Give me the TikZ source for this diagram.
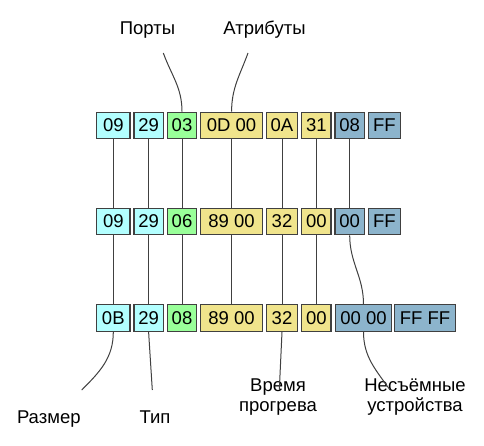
\documentclass[tikz,border=0pt]{standalone}
\usepackage{fontspec}
\setmainfont{Liberation Sans}
\usetikzlibrary{positioning}

\definecolor{cellcyan}{RGB}{179,255,255}
\definecolor{cellgreen}{RGB}{153,255,153}
\definecolor{cellyellow}{RGB}{240,228,140}
\definecolor{cellblue}{RGB}{140,180,204}
\definecolor{edgegray}{RGB}{64,64,64}

\begin{document}
\begin{tikzpicture}[x=1pt,y=-1pt,
    font=\fontsize{18.5}{20}\selectfont,
    cell/.style={draw=edgegray,line width=1.3pt,inner sep=0pt,
      minimum height=26.5pt,minimum width=#1},
    cell/.default=29.5pt,
    lbl/.style={align=center,inner sep=0pt,anchor=base},
    wire/.style={draw=edgegray,line width=1pt}]
  \useasboundingbox (0,0) rectangle (484,445);

  % First row
  \node[cell=33.5pt,fill=cellcyan]   (a1) at (113.3,125.5) {09};
  \node[cell,fill=cellcyan]          (b1) at (148.6,125.5) {29};
  \node[cell,fill=cellgreen]         (c1) at (182,125.5) {03};
  \node[cell=62pt,fill=cellyellow]   (d1) at (231.6,125.5) {0D 00};
  \node[cell=31.5pt,fill=cellyellow] (e1) at (282,125.5) {0A};
  \node[cell,fill=cellyellow]        (f1) at (316.3,125.5) {31};
  \node[cell,fill=cellblue]          (g1) at (349.7,125.5) {08};
  \node[cell=32pt,fill=cellblue]     (h1) at (384.3,125.5) {FF};

  % Second row
  \node[cell=33.5pt,fill=cellcyan]   (a2) at (113.3,221.5) {09};
  \node[cell,fill=cellcyan]          (b2) at (148.6,221.5) {29};
  \node[cell,fill=cellgreen]         (c2) at (182,221.5) {06};
  \node[cell=62pt,fill=cellyellow]   (d2) at (231.6,221.5) {89 00};
  \node[cell=31.5pt,fill=cellyellow] (e2) at (282,221.5) {32};
  \node[cell,fill=cellyellow]        (f2) at (316.3,221.5) {00};
  \node[cell,fill=cellblue]          (g2) at (349.7,221.5) {00};
  \node[cell=32pt,fill=cellblue]     (h2) at (384.3,221.5) {FF};

  % Third row
  \node[cell=33.5pt,fill=cellcyan]   (a3) at (113.3,318) {0B};
  \node[cell,fill=cellcyan]          (b3) at (148.6,318) {29};
  \node[cell,fill=cellgreen]         (c3) at (182,318) {08};
  \node[cell=62pt,fill=cellyellow]   (d3) at (231.6,318) {89 00};
  \node[cell=31.5pt,fill=cellyellow] (e3) at (282,318) {32};
  \node[cell,fill=cellyellow]        (f3) at (316.3,318) {00};
  \node[cell=56pt,fill=cellblue]     (g3) at (363.5,318) {00 00};
  \node[cell=61pt,fill=cellblue]     (h3) at (425,318) {FF FF};

  % Links between rows
  \foreach \c in {a,b,c,d,e,f,g}
    \draw[wire] (\c1.south) -- (\c2.north);
  \foreach \c in {a,b,c,d,e,f}
    \draw[wire] (\c2.south) -- (\c3.north);
  \draw[wire] (g2.south) to[out=-90,in=90] (g3.north);

  % Labels
  \node[lbl] (ports) at (147.5,34.3) {Порты};
  \node[lbl] (attrs) at (264.5,34.3) {Атрибуты};
  \node[lbl] (size)  at (48.8,423.3) {Размер};
  \node[lbl] (type)  at (155,423.3) {Тип};
  \node[lbl] (warm)  at (278,411.7) {Время\\прогрева};
  \node[lbl] (fixed) at (415,411.7) {Несъёмные\\устройства};

  % Label leaders
  \coordinate (portsend) at (163.3,53);
  \coordinate (attrsend) at (248,53);
  \coordinate (sizeend)  at (81.7,390);
  \coordinate (typeend)  at (152.3,390);
  \coordinate (warmend)  at (279.3,390);
  \coordinate (fixedend) at (390,390);
  \draw[wire] (portsend) to[out=-70,in=90] (c1.north);
  \draw[wire] (attrsend) to[out=-110,in=90] (d1.north);
  \draw[wire] (a3.south) to[out=-90,in=45] (sizeend);
  \draw[wire] (b3.south) -- (typeend);
  \draw[wire] (e3.south) -- (warmend);
  \draw[wire] (g3.south) to[out=-90,in=125] (fixedend);
\end{tikzpicture}
\end{document}
